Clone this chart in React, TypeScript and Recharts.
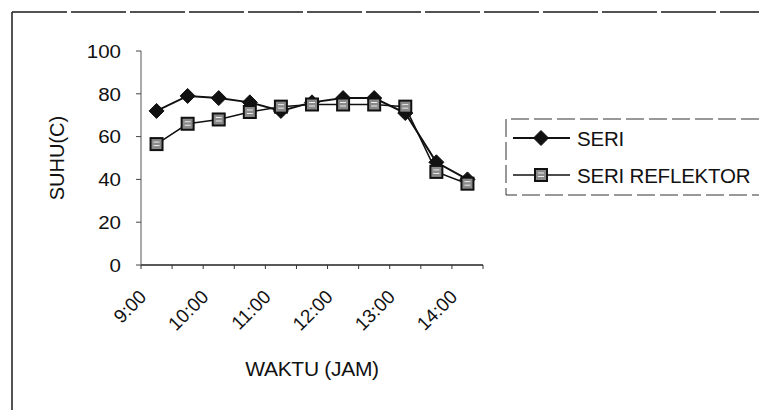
import React from 'react';
import { LineChart, Line, XAxis, YAxis, Legend } from 'recharts';

const categories = ['9:00', '9:30', '10:00', '10:30', '11:00', '11:30', '12:00', '12:30', '13:00', '13:30', '14:00'];
const hourLabels = ['9:00', '10:00', '11:00', '12:00', '13:00', '14:00'];
const seriValues = [72, 79, 78, 76, 72, 76, 78, 78, 71, 48, 40];
const reflektorValues = [56.5, 66, 68, 71.5, 74, 75, 75, 75, 74, 43.5, 38];
const yTicks = [0, 20, 40, 60, 80, 100];
const seriName = 'SERI';
const reflektorName = 'SERI REFLEKTOR';
const xTitle = 'WAKTU (JAM)';
const yTitle = 'SUHU(C)';

const data = categories.map((c, i) => ({ time: c, seri: seriValues[i], reflektor: reflektorValues[i] }));

const W = 759;
const H = 410;
const PLOT_LEFT = 141;
const PLOT_RIGHT = 483;
const PLOT_TOP = 51;
const PLOT_BOTTOM = 265;
const Y_AXIS_W = 100;
const X_AXIS_H = 60;
const BAND = (PLOT_RIGHT - PLOT_LEFT) / categories.length;
const FONT = '"Liberation Sans", Arial, Helvetica, sans-serif';
const INK = '#111';

const Diamond = ({ cx, cy, r = 7.5 }: any) => (
  <polygon points={`${cx},${cy - r} ${cx + r},${cy} ${cx},${cy + r} ${cx - r},${cy}`} fill={INK} stroke={INK} strokeWidth={1} />
);

const Square = ({ cx, cy, s = 12 }: any) => (
  <g>
    <rect x={cx - s / 2} y={cy - s / 2} width={s} height={s} fill="#8a8a8a" stroke={INK} strokeWidth={2} />
    <line x1={cx - 3} x2={cx + 3} y1={cy - 2} y2={cy - 2} stroke="#eee" strokeWidth={1} />
    <line x1={cx - 3} x2={cx + 3} y1={cy + 1.5} y2={cy + 1.5} stroke="#eee" strokeWidth={1} />
  </g>
);

const seriDot = (p: any) => <Diamond key={`d${p.index}`} cx={p.cx} cy={p.cy} />;
const reflDot = (p: any) => <Square key={`s${p.index}`} cx={p.cx} cy={p.cy} />;

const XTick = (props: any) => {
  const { x, y, payload } = props;
  const i = props.index ?? payload.index;
  const left = x - BAND / 2;
  const show = hourLabels.includes(payload.value);
  const tx = x - 9;
  const ty = y + 33;
  return (
    <g>
      <line x1={left} x2={left} y1={y} y2={y + 4} stroke="#333" strokeWidth={1} />
      {i === categories.length - 1 && (
        <line x1={x + BAND / 2} x2={x + BAND / 2} y1={y} y2={y + 4} stroke="#333" strokeWidth={1} />
      )}
      {show && (
        <text x={tx} y={ty} transform={`rotate(-45, ${tx}, ${ty})`} textAnchor="end" fontSize={19} fontFamily={FONT} fill={INK}>
          {payload.value}
        </text>
      )}
    </g>
  );
};

const YTick = (props: any) => {
  const { x, y, payload } = props;
  return (
    <text x={x} y={y} textAnchor="end" dominantBaseline="central" fontSize={19} fontFamily={FONT} fill={INK} transform={`translate(${x}, 0) scale(1.08, 1) translate(${-x}, 0)`}>
      {payload.value}
    </text>
  );
};

const XTitle = (props: any) => {
  const vb = props.viewBox;
  const cx = vb.x + vb.width / 2;
  return (
    <text x={cx} y={vb.y + 111} textAnchor="middle" fontSize={21} fontFamily={FONT} fill={INK} letterSpacing={-0.3}>
      {xTitle}
    </text>
  );
};

const YTitle = (props: any) => {
  const vb = props.viewBox;
  const cx = vb.x + 16;
  const cy = vb.y + vb.height / 2;
  return (
    <text x={cx} y={cy} transform={`rotate(-90, ${cx}, ${cy})`} textAnchor="middle" dominantBaseline="central" fontSize={20} fontFamily={FONT} fill={INK}>
      {yTitle}
    </text>
  );
};

const LegendBox = (props: any) => {
  const payload = props.payload || [];
  return (
    <svg width={254} height={78} style={{ display: 'block' }}>
      <path d="M254 1 H1 V77 H254" fill="none" stroke="#333" strokeWidth={1} strokeDasharray="18 5" />
      {payload.map((p: any, i: number) => {
        const cy = 20 + i * 37;
        const isSeri = p.dataKey === 'seri';
        return (
          <g key={String(p.value)}>
            <line x1={8} x2={65} y1={cy} y2={cy} stroke={INK} strokeWidth={isSeri ? 2 : 1.5} />
            {isSeri ? <Diamond cx={36} cy={cy} /> : <Square cx={36} cy={cy} />}
            <text x={72} y={cy} dominantBaseline="central" fontSize={20.5} fontFamily={FONT} fill={INK} letterSpacing={-0.2}>
              {p.value}
            </text>
          </g>
        );
      })}
    </svg>
  );
};

export default function App() {
  return (
    <div style={{ position: 'absolute', left: 0, top: 0, width: W, height: H, background: '#fff', overflow: 'hidden' }}>
      <svg width={W} height={H} style={{ position: 'absolute', left: 0, top: 0 }}>
        <line x1={12} y1={410} x2={12} y2={12} stroke="#1a1a1a" strokeWidth={1.5} />
        <line x1={12} y1={12} x2={759} y2={12} stroke="#1a1a1a" strokeWidth={1.5} strokeDasharray="55 4" />
      </svg>
      <div style={{ position: 'absolute', left: 0, top: 0 }}>
        <LineChart
          width={W}
          height={H}
          data={data}
          margin={{ top: PLOT_TOP, right: W - PLOT_RIGHT, bottom: H - PLOT_BOTTOM - X_AXIS_H, left: PLOT_LEFT - Y_AXIS_W }}
        >
          <XAxis
            dataKey="time"
            interval={0}
            height={X_AXIS_H}
            padding={{ left: BAND / 2, right: BAND / 2 }}
            tickLine={false}
            tickSize={0}
            tickMargin={0}
            tick={<XTick />}
            axisLine={{ stroke: '#222', strokeWidth: 1.5 }}
            label={<XTitle />}
          />
          <YAxis
            width={Y_AXIS_W}
            domain={[0, 100]}
            ticks={yTicks}
            interval={0}
            tickSize={5}
            tickMargin={15}
            tick={<YTick />}
            tickLine={{ stroke: '#444' }}
            axisLine={{ stroke: '#555', strokeWidth: 1 }}
            label={<YTitle />}
          />
          <Legend
            layout="vertical"
            align="center"
            verticalAlign="middle"
            content={<LegendBox />}
            wrapperStyle={{ position: 'absolute', left: 505, top: 118, width: 254, height: 78 }}
          />
          <Line type="linear" dataKey="seri" name={seriName} stroke={INK} strokeWidth={2} dot={seriDot} activeDot={false} isAnimationActive={false} />
          <Line type="linear" dataKey="reflektor" name={reflektorName} stroke={INK} strokeWidth={1.5} dot={reflDot} activeDot={false} isAnimationActive={false} />
        </LineChart>
      </div>
    </div>
  );
}
